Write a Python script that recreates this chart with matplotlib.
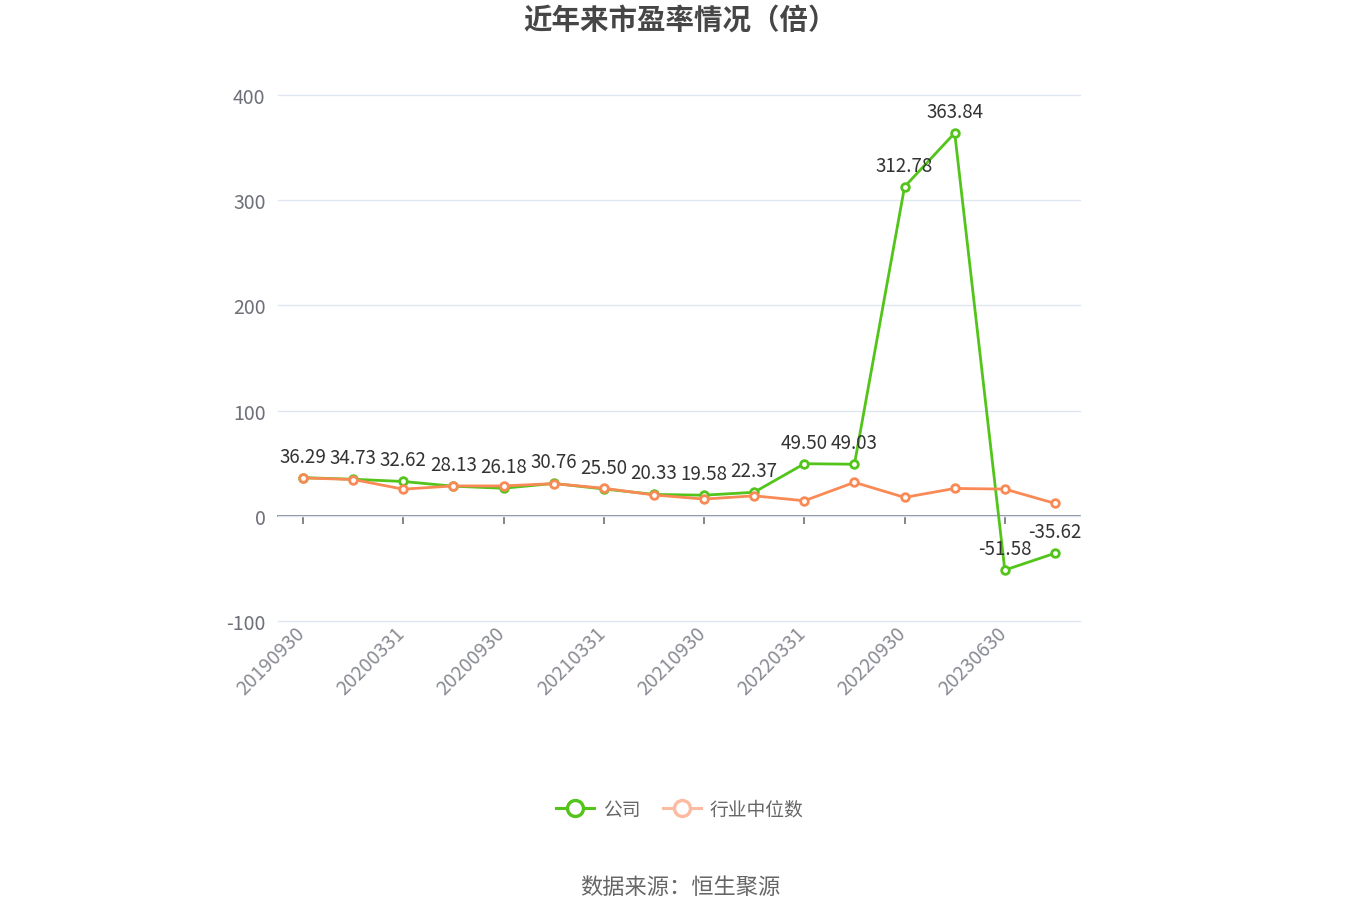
import matplotlib
matplotlib.use("Agg")
import matplotlib.pyplot as plt
import matplotlib.transforms as mtrans
from matplotlib.lines import Line2D

plt.rcParams['font.family'] = ['Noto Sans CJK SC', 'DejaVu Sans']

categories = ["20190930", "20191231", "20200331", "20200630", "20200930", "20201231",
              "20210331", "20210630", "20210930", "20211231", "20220331", "20220630",
              "20220930", "20230331", "20230630", "20230930"]
company = [36.29, 34.73, 32.62, 28.13, 26.18, 30.76, 25.50, 20.33, 19.58, 22.37,
           49.50, 49.03, 312.78, 363.84, -51.58, -35.62]
industry = [36.0, 34.5, 25.3, 28.4, 28.4, 30.6, 26.2, 19.8, 15.9, 19.0,
            14.3, 31.8, 17.5, 26.0, 25.4, 11.8]
y_ticks = [-100, 0, 100, 200, 300, 400]

GREEN = "#52c41a"
ORANGE = "#fa8a55"
GRAY = "#6e7079"

fig = plt.figure(figsize=(13.6, 9.2), dpi=100)
ax = fig.add_axes([278/1360, 1-622/920, (1080-278)/1360, (622-96)/920])

x = list(range(len(categories)))
ax.plot(x, company, color=GREEN, lw=2.0, marker='o', ms=5.5, mfc='white',
        mec=GREEN, mew=2.0, zorder=3)
ax.plot(x, industry, color=ORANGE, lw=2.0, marker='o', ms=5.5, mfc='white',
        mec=ORANGE, mew=2.0, zorder=4)

for xi, v in zip(x, company):
    ax.annotate(f"{v:.2f}", (xi, v), xytext=(0, 8), textcoords='offset points',
                ha='center', va='bottom', fontsize=13.5, color='#333333', zorder=6)

ax.set_xlim(-0.5, len(categories) - 0.5)
ax.set_ylim(-100, 400)
ax.set_yticks(y_ticks)
ax.set_yticklabels([str(t) for t in y_ticks], fontsize=14, color=GRAY)
ax.yaxis.grid(True, color='#e0e6f1', lw=1)
for gl in ax.get_ygridlines():
    gl.set_clip_on(False)
ax.set_axisbelow(True)
ax.tick_params(axis='y', length=0, pad=9)
for s in ['top', 'right', 'left', 'bottom']:
    ax.spines[s].set_visible(False)

tick_idx = list(range(0, len(categories), 2))
ax.set_xticks(tick_idx)
ax.set_xticklabels([categories[i] for i in tick_idx], rotation=45, ha='right',
                   rotation_mode='anchor', fontsize=14, color='#8a8c94')
ax.tick_params(axis='x', length=0, pad=4)
shift = mtrans.ScaledTranslation(-9/100, 4/100, fig.dpi_scale_trans)
for lbl in ax.get_xticklabels():
    lbl.set_transform(lbl.get_transform() + shift)

# category axis line at zero with its ticks
sec = ax.secondary_xaxis(0.2)
sec.set_xticks(tick_idx)
sec.tick_params(axis='x', length=6, width=1.2, color=GRAY, labelbottom=False)
sec.spines['bottom'].set_color(GRAY)
sec.spines['bottom'].set_linewidth(1.2)

fig.text(0.5, 1-21/920, "近年来市盈率情况（倍）", ha='center', va='center',
         fontsize=20.5, fontweight='bold', color='#464646')

handles = [
    Line2D([0], [0], color=GREEN, lw=2.2, marker='o', ms=11.5, mfc='white', mec=GREEN, mew=2.4),
    Line2D([0], [0], color='#fdbca2', lw=2.2, marker='o', ms=11.5, mfc='white', mec='#fdbca2', mew=2.4),
]
leg = fig.legend(handles, ["公司", "行业中位数"], loc='center', bbox_to_anchor=(0.5, 1-810/920),
                 ncol=2, frameon=False, fontsize=13.5, handlelength=2.0, columnspacing=1.2,
                 handletextpad=0.5)
for t in leg.get_texts():
    t.set_color('#666666')

fig.text(0.5, 1-888/920, "数据来源：恒生聚源", ha='center', va='center',
         fontsize=16, color='#666666')

fig.savefig("out.png", dpi=100)
